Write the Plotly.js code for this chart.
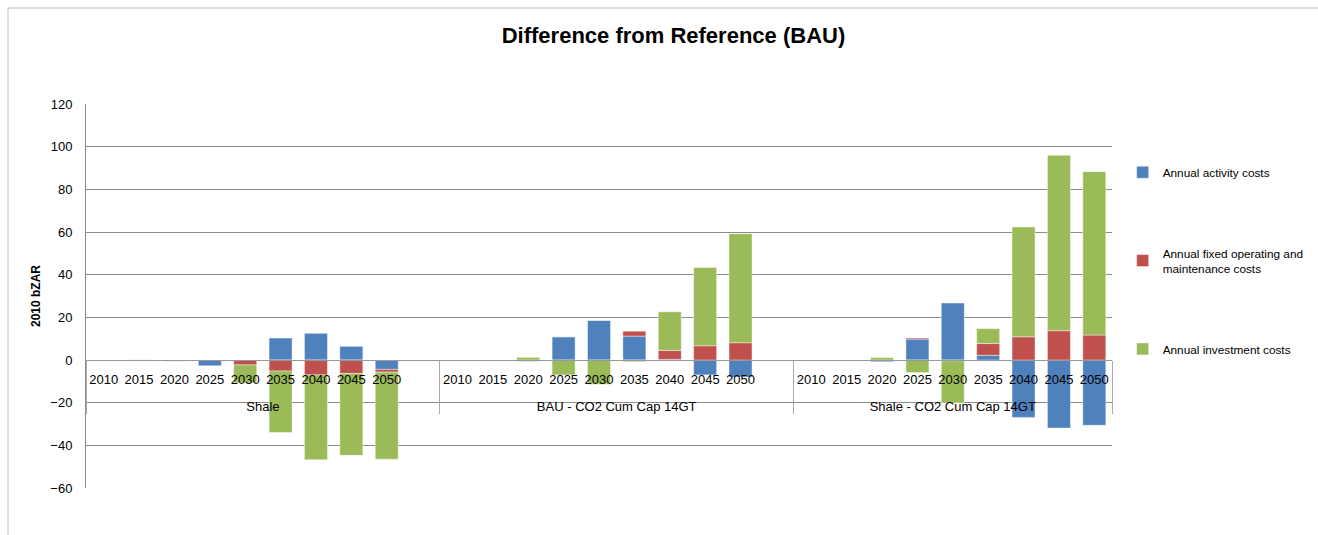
<!DOCTYPE html>
<html>
<head>
<meta charset="utf-8">
<script src="https://cdn.plot.ly/plotly-3.0.1.min.js"></script>
<style>html,body{margin:0;padding:0;background:#fff;}#chart{width:1318px;height:535px;}</style>
</head>
<body>
<div id="chart"></div>
<script>
// ---- data ----
var years = ['2010','2015','2020','2025','2030','2035','2040','2045','2050'];
var groups = ['Shale', 'BAU - CO2 Cum Cap 14GT', 'Shale - CO2 Cum Cap 14GT'];
var seriesNames = ['Annual activity costs', 'Annual fixed operating and<br>maintenance costs', 'Annual investment costs'];

var activityShale = [0, 0.3, 0, -2.7, 0, 10.3, 12.5, 6.4, -4.4];
var fixedShale    = [0, 0, 0, 0, -2.3, -5.2, -7.0, -6.3, -1.3];
var investShale   = [0, 0, -0.6, 0, -8.4, -28.8, -39.8, -38.4, -40.8];

var activityBAU = [0, 0, -0.6, 10.9, 18.6, 11.2, 0.3, -7.0, -8.0];
var fixedBAU    = [0, 0, 0, 0, 0, 2.3, 4.2, 6.7, 8.1];
var investBAU   = [0, 0, 1.2, -7.0, -11.4, -0.8, 18.1, 36.7, 51.1];

var activityShaleCap = [0, 0, -0.8, 9.8, 26.7, 2.2, -26.9, -31.9, -30.6];
var fixedShaleCap    = [0, 0, 0, 0.5, -0.4, 5.5, 10.9, 13.75, 11.7];
var investShaleCap   = [0, 0, 1.1, -5.9, -19.8, 7.0, 51.4, 82.2, 76.6];

var colors = ['#4F81BD', '#C0504D', '#9BBB59'];

// ---- build multicategory x (with a blank spacer after the first two groups) ----
// an empty second line under each year label leaves room above the group labels
function buildX() {
  var g = [], s = [];
  groups.forEach(function (grp, gi) {
    years.forEach(function (y) { g.push(grp); s.push(y + '<br>&nbsp;'); });
    if (gi < groups.length - 1) { g.push(grp); s.push('&nbsp;<br>&nbsp;'); }
  });
  return [g, s];
}
function buildY(arrs) {
  var out = [];
  arrs.forEach(function (a, gi) {
    a.forEach(function (v) { out.push(v); });
    if (gi < arrs.length - 1) out.push(null);
  });
  return out;
}
var X = buildX();
var seriesData = [
  buildY([activityShale, activityBAU, activityShaleCap]),
  buildY([fixedShale, fixedBAU, fixedShaleCap]),
  buildY([investShale, investBAU, investShaleCap])
];

var font = 'Liberation Sans, Arial, sans-serif';
var traces = seriesData.map(function (ys, i) {
  return {
    type: 'bar',
    name: seriesNames[i],
    x: X,
    y: ys,
    legendgroup: 'g' + i,
    marker: { color: colors[i], line: { color: 'rgba(255,255,255,0.7)', width: 0.6 } },
    hoverinfo: 'y+name'
  };
});

var layout = {
  width: 1318,
  height: 535,
  paper_bgcolor: '#fff',
  plot_bgcolor: '#fff',
  margin: { l: 86, r: 206, t: 104, b: 47, autoexpand: false },
  barmode: 'relative',
  bargap: 0.35,
  font: { family: font, size: 13, color: '#000' },
  title: {
    text: '<b>Difference from Reference (BAU)</b>',
    font: { family: font, size: 22, color: '#000' },
    x: 0.511, xanchor: 'center',
    y: 0.934, yanchor: 'middle'
  },
  xaxis: {
    type: 'multicategory',
    anchor: 'free',
    position: 1 / 3,
    showline: true,
    linecolor: '#999',
    linewidth: 1,
    ticks: '',
    tickangle: 0,
    ticklabelstandoff: 7,
    showgrid: false,
    showdividers: true,
    dividercolor: '#aaa',
    dividerwidth: 1,
    automargin: false,
    tickfont: { family: font, size: 13, color: '#000' }
  },
  yaxis: {
    range: [-60, 120],
    dtick: 20,
    tick0: 0,
    showgrid: true,
    gridcolor: '#8c8c8c',
    gridwidth: 1,
    zeroline: true,
    zerolinecolor: '#999',
    zerolinewidth: 1,
    showline: true,
    linecolor: '#8c8c8c',
    ticks: '',
    automargin: false,
    ticklabelstandoff: 10,
    tickfont: { family: font, size: 13, color: '#000' },
    title: { text: '<b>2010 bZAR</b>', font: { family: font, size: 12, color: '#000' }, standoff: 7 }
  },
  legend: {
    x: 1.0104, xanchor: 'left',
    y: 0.86, yanchor: 'top',
    traceorder: 'grouped',
    tracegroupgap: 62,
    font: { family: font, size: 11.8, color: '#000' },
    itemwidth: 30,
    bgcolor: 'rgba(0,0,0,0)'
  },
  shapes: [
    { type: 'rect', xref: 'paper', yref: 'paper', x0: -0.076, x1: 1.3, y0: -0.3, y1: 1.25,
      line: { color: '#bbb', width: 1 }, fillcolor: 'rgba(0,0,0,0)', layer: 'below' }
  ],
  showlegend: true
};

Plotly.newPlot('chart', traces, layout, { displayModeBar: false, staticPlot: true });
</script>
</body>
</html>
